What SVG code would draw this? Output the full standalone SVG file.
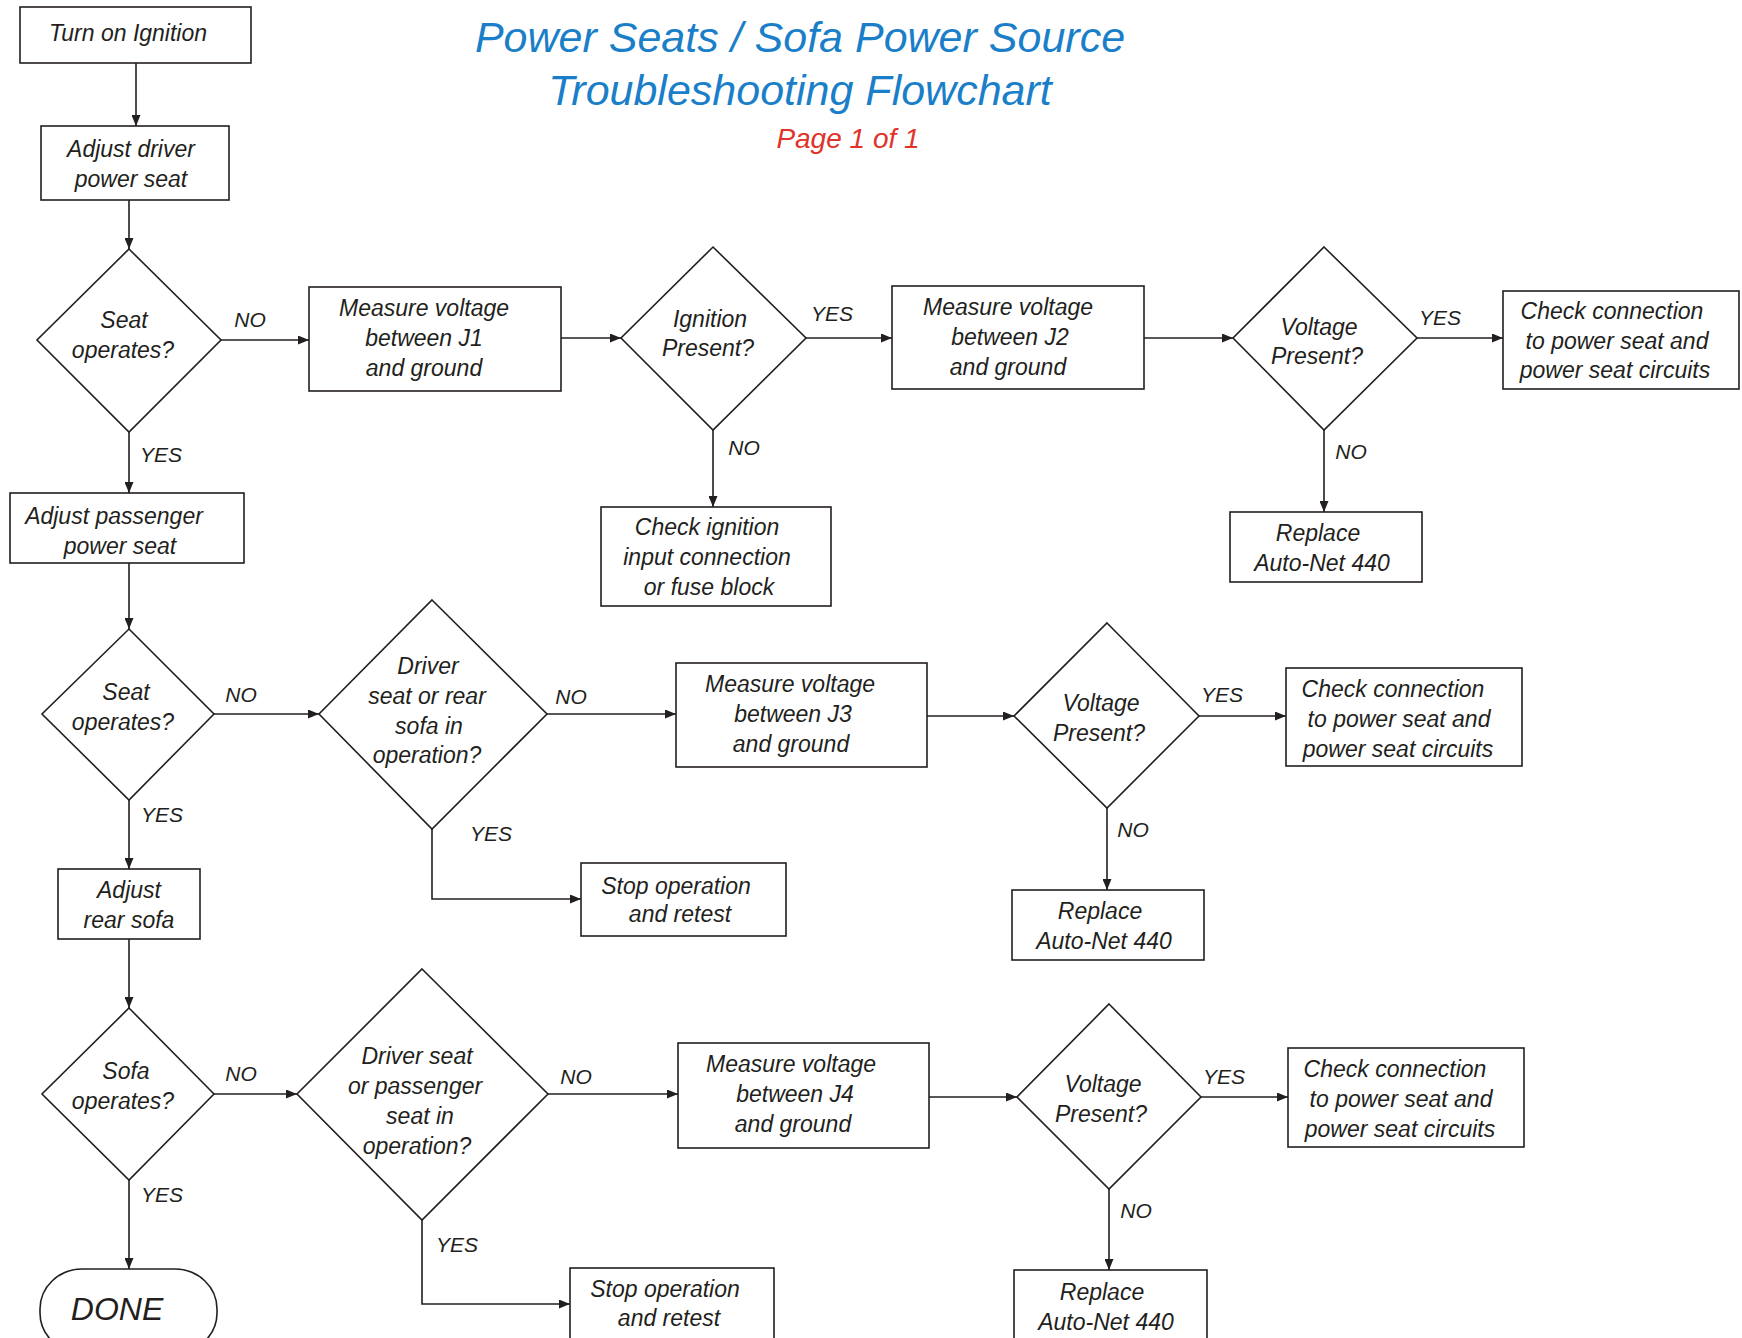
<svg xmlns="http://www.w3.org/2000/svg" width="1742" height="1338" viewBox="0 0 1742 1338">
<defs>
<marker id="arr" markerUnits="userSpaceOnUse" markerWidth="11" markerHeight="9" refX="11" refY="4.5" orient="auto">
<path d="M0,0 L11,4.5 L0,9 z" fill="#231f20"/>
</marker>
<style>
.box{fill:#fff;stroke:#231f20;stroke-width:1.6}
.t{font-family:"Liberation Sans",Arial,sans-serif;font-style:italic;font-size:23px;fill:#231f20;text-anchor:middle}
.lbl{font-family:"Liberation Sans",Arial,sans-serif;font-style:italic;font-size:21px;fill:#231f20;text-anchor:middle}
.e{fill:none;stroke:#231f20;stroke-width:1.6;marker-end:url(#arr)}
.title{font-family:"Liberation Sans",Arial,sans-serif;font-style:italic;font-size:43px;fill:#1a7fc8;text-anchor:middle}
.page{font-family:"Liberation Sans",Arial,sans-serif;font-style:italic;font-size:28px;fill:#e0342a;text-anchor:middle}
</style>
</defs>
<rect width="1742" height="1338" fill="#fff"/>
<g id="title">
<text class="title" x="800" y="52">Power Seats / Sofa Power Source</text>
<text class="title" x="800" y="105">Troubleshooting Flowchart</text>
<text class="page" x="848" y="148">Page 1 of 1</text>
</g>
<g id="connectors">
<path class="e" d="M136,63 V126"/>
<path class="e" d="M129,200 V249"/>
<path class="e" d="M221,340 H309"/>
<path class="e" d="M561,338 H621"/>
<path class="e" d="M806,338 H892"/>
<path class="e" d="M1144,338 H1233"/>
<path class="e" d="M1417,338 H1503"/>
<path class="e" d="M1324,430 V512"/>
<path class="e" d="M713,430 V507"/>
<path class="e" d="M129,432 V493"/>
<path class="e" d="M129,563 V629"/>
<path class="e" d="M214,714 H319"/>
<path class="e" d="M547,714 H676"/>
<path class="e" d="M927,716 H1014"/>
<path class="e" d="M1199,716 H1286"/>
<path class="e" d="M1107,808 V890"/>
<path class="e" d="M432,829 V899 H581"/>
<path class="e" d="M129,800 V869"/>
<path class="e" d="M129,939 V1008"/>
<path class="e" d="M214,1094 H297"/>
<path class="e" d="M548,1094 H678"/>
<path class="e" d="M929,1097 H1017"/>
<path class="e" d="M1201,1097 H1288"/>
<path class="e" d="M1109,1189 V1270"/>
<path class="e" d="M422,1220 V1304 H570"/>
<path class="e" d="M129,1180 V1269"/>
<text class="lbl" x="250" y="327">NO</text>
<text class="lbl" x="832" y="321">YES</text>
<text class="lbl" x="1440" y="325">YES</text>
<text class="lbl" x="1351" y="459">NO</text>
<text class="lbl" x="744" y="455">NO</text>
<text class="lbl" x="161" y="462">YES</text>
<text class="lbl" x="241" y="702">NO</text>
<text class="lbl" x="571" y="704">NO</text>
<text class="lbl" x="1222" y="702">YES</text>
<text class="lbl" x="1133" y="837">NO</text>
<text class="lbl" x="491" y="841">YES</text>
<text class="lbl" x="162" y="822">YES</text>
<text class="lbl" x="241" y="1081">NO</text>
<text class="lbl" x="576" y="1084">NO</text>
<text class="lbl" x="1224" y="1084">YES</text>
<text class="lbl" x="1136" y="1218">NO</text>
<text class="lbl" x="457" y="1252">YES</text>
<text class="lbl" x="162" y="1202">YES</text>
</g>
<g id="n1"><rect class="box" x="20" y="7" width="231" height="56"/><text class="t" x="128" y="41">Turn on Ignition</text></g>
<g id="n2"><rect class="box" x="41" y="126" width="188" height="74"/><text class="t" x="131" y="157">Adjust driver</text><text class="t" x="131" y="187">power seat</text></g>
<g id="d1"><polygon class="box" points="129,249 221,340 129,432 37,340"/><text class="t" x="124" y="328">Seat</text><text class="t" x="123" y="358">operates?</text></g>
<g id="n3"><rect class="box" x="309" y="287" width="252" height="104"/><text class="t" x="424" y="316">Measure voltage</text><text class="t" x="424" y="346">between J1</text><text class="t" x="424" y="376">and ground</text></g>
<g id="d2"><polygon class="box" points="713,247 806,338 713,430 621,338"/><text class="t" x="710" y="327">Ignition</text><text class="t" x="708" y="356">Present?</text></g>
<g id="n4"><rect class="box" x="892" y="286" width="252" height="103"/><text class="t" x="1008" y="315">Measure voltage</text><text class="t" x="1010" y="345">between J2</text><text class="t" x="1008" y="375">and ground</text></g>
<g id="d3"><polygon class="box" points="1324,247 1417,338 1324,430 1233,338"/><text class="t" x="1319" y="335">Voltage</text><text class="t" x="1317" y="364">Present?</text></g>
<g id="n5"><rect class="box" x="1503" y="291" width="236" height="98"/><text class="t" x="1612" y="319">Check connection</text><text class="t" x="1617" y="349">to power seat and</text><text class="t" x="1615" y="378">power seat circuits</text></g>
<g id="n6"><rect class="box" x="1230" y="512" width="192" height="70"/><text class="t" x="1318" y="541">Replace</text><text class="t" x="1322" y="571">Auto-Net 440</text></g>
<g id="n7"><rect class="box" x="601" y="507" width="230" height="99"/><text class="t" x="707" y="535">Check ignition</text><text class="t" x="707" y="565">input connection</text><text class="t" x="709" y="595">or fuse block</text></g>
<g id="n8"><rect class="box" x="10" y="493" width="234" height="70"/><text class="t" x="114" y="524">Adjust passenger</text><text class="t" x="120" y="554">power seat</text></g>
<g id="d4"><polygon class="box" points="129,629 214,714 129,800 42,714"/><text class="t" x="126" y="700">Seat</text><text class="t" x="123" y="730">operates?</text></g>
<g id="d5"><polygon class="box" points="432,600 547,714 432,829 319,714"/><text class="t" x="428" y="674">Driver</text><text class="t" x="427" y="704">seat or rear</text><text class="t" x="429" y="734">sofa in</text><text class="t" x="427" y="763">operation?</text></g>
<g id="n9"><rect class="box" x="676" y="663" width="251" height="104"/><text class="t" x="790" y="692">Measure voltage</text><text class="t" x="793" y="722">between J3</text><text class="t" x="791" y="752">and ground</text></g>
<g id="d6"><polygon class="box" points="1107,623 1199,716 1107,808 1014,716"/><text class="t" x="1101" y="711">Voltage</text><text class="t" x="1099" y="741">Present?</text></g>
<g id="n10"><rect class="box" x="1286" y="668" width="236" height="98"/><text class="t" x="1393" y="697">Check connection</text><text class="t" x="1399" y="727">to power seat and</text><text class="t" x="1398" y="757">power seat circuits</text></g>
<g id="n11"><rect class="box" x="1012" y="890" width="192" height="70"/><text class="t" x="1100" y="919">Replace</text><text class="t" x="1104" y="949">Auto-Net 440</text></g>
<g id="n12"><rect class="box" x="581" y="863" width="205" height="73"/><text class="t" x="676" y="894">Stop operation</text><text class="t" x="680" y="922">and retest</text></g>
<g id="n13"><rect class="box" x="58" y="869" width="142" height="70"/><text class="t" x="129" y="898">Adjust</text><text class="t" x="129" y="928">rear sofa</text></g>
<g id="d7"><polygon class="box" points="129,1008 214,1094 129,1180 42,1094"/><text class="t" x="126" y="1079">Sofa</text><text class="t" x="123" y="1109">operates?</text></g>
<g id="d8"><polygon class="box" points="422,969 548,1094 422,1220 297,1094"/><text class="t" x="417" y="1064">Driver seat</text><text class="t" x="415" y="1094">or passenger</text><text class="t" x="420" y="1124">seat in</text><text class="t" x="417" y="1154">operation?</text></g>
<g id="n14"><rect class="box" x="678" y="1043" width="251" height="105"/><text class="t" x="791" y="1072">Measure voltage</text><text class="t" x="795" y="1102">between J4</text><text class="t" x="793" y="1132">and ground</text></g>
<g id="d9"><polygon class="box" points="1109,1004 1201,1097 1109,1189 1017,1097"/><text class="t" x="1103" y="1092">Voltage</text><text class="t" x="1101" y="1122">Present?</text></g>
<g id="n15"><rect class="box" x="1288" y="1048" width="236" height="99"/><text class="t" x="1395" y="1077">Check connection</text><text class="t" x="1401" y="1107">to power seat and</text><text class="t" x="1400" y="1137">power seat circuits</text></g>
<g id="n16"><rect class="box" x="1014" y="1270" width="193" height="80"/><text class="t" x="1102" y="1300">Replace</text><text class="t" x="1106" y="1330">Auto-Net 440</text></g>
<g id="n17"><rect class="box" x="570" y="1268" width="204" height="80"/><text class="t" x="665" y="1297">Stop operation</text><text class="t" x="669" y="1326">and retest</text></g>
<g id="done"><rect class="box" x="40" y="1269" width="177" height="84" rx="42" ry="40"/><text class="t" x="117" y="1320" style="font-size:32px">DONE</text></g>
</svg>
